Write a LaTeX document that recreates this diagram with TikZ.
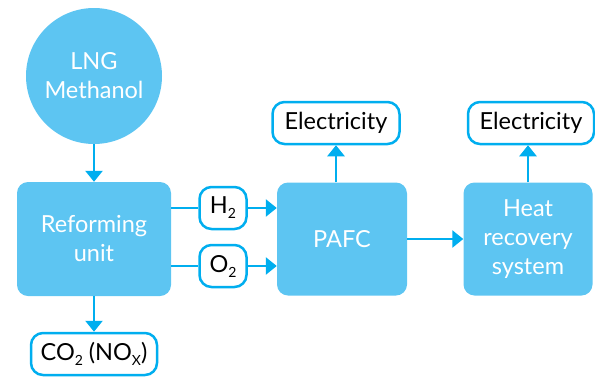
\documentclass[tikz,border=0pt]{standalone}
\usepackage{fontspec}
\setmainfont{Lato}
\usepackage{tikz}
\usetikzlibrary{arrows.meta,positioning}
\definecolor{flowfill}{RGB}{93,197,242}
\definecolor{flowline}{RGB}{0,174,239}
\newcommand{\lowsub}[1]{\raisebox{-5pt}{\fontsize{14}{14}\selectfont #1}}

\begin{document}
\begin{tikzpicture}[x=1pt, y=-1pt, font=\fontsize{23.5}{29}\selectfont,
  proc/.style={fill=flowfill, rounded corners=11pt, text=white, align=center, inner sep=0pt},
  tag/.style={draw=flowline, line width=2.5pt, fill=white, rounded corners=12pt, text=black, inner sep=0pt, minimum height=42pt},
  flow/.style={-{Triangle[width=17pt,length=11pt]}, draw=flowline, line width=2.5pt}]
  \useasboundingbox (0,0) rectangle (595,376);
  \node[circle, fill=flowfill, minimum size=136pt, text=white, align=center, inner sep=0pt] (src) at (94,76) {LNG\\Methanol};
  \node[proc, minimum width=154pt, minimum height=114pt] (ref) at (94,239) {Reforming\\unit};
  \node[proc, minimum width=130pt, minimum height=113pt] (pafc) at (342,239) {PAFC};
  \node[proc, minimum width=129pt, minimum height=113pt] (heat) at (528,239) {Heat\\recovery\\system};
  \node[tag, minimum width=47pt] (h2) at (223,208) {H\lowsub{2}};
  \node[tag, minimum width=47pt] (o2) at (223,266) {O\lowsub{2}};
  \node[tag, minimum width=127pt] (el1) at (336,123) {Electricity};
  \node[tag, minimum width=126pt] (el2) at (531,123) {Electricity};
  \node[tag, minimum width=126pt] (co2) at (94,354) {CO\lowsub{2} (NO\lowsub{X})};
  \draw[flow] (src) -- (ref);
  \draw[flow] (ref) -- (co2);
  \draw[draw=flowline, line width=2.5pt] (ref.east |- h2) -- (h2);
  \draw[draw=flowline, line width=2.5pt] (ref.east |- o2) -- (o2);
  \draw[flow] (h2) -- (h2 -| pafc.west);
  \draw[flow] (o2) -- (o2 -| pafc.west);
  \draw[flow] (pafc.north -| el1) -- (el1);
  \draw[flow] (pafc) -- (heat);
  \draw[flow] (heat.north) -- (el2.south -| heat.north);
\end{tikzpicture}
\end{document}
